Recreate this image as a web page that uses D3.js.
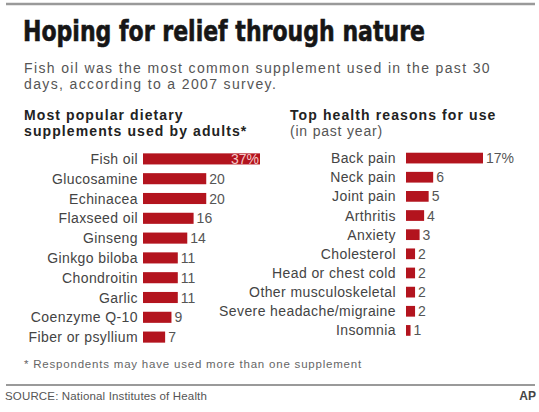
<!DOCTYPE html>
<html><head><meta charset="utf-8">
<script src="https://cdn.jsdelivr.net/npm/d3@7"></script>
<style>body{margin:0;background:#fff}svg{display:block}</style>
</head><body>
<script>
const supplements = ["Fish oil","Glucosamine","Echinacea","Flaxseed oil","Ginseng","Ginkgo biloba","Chondroitin","Garlic","Coenzyme Q-10","Fiber or psyllium"];
const supplementValues = [37,20,20,16,14,11,11,11,9,7];
const reasons = ["Back pain","Neck pain","Joint pain","Arthritis","Anxiety","Cholesterol","Head or chest cold","Other musculoskeletal","Severe headache/migraine","Insomnia"];
const reasonValues = [17,6,5,4,3,2,2,2,2,1];

const W = 539, H = 412;
const red = "#b3141e";
const font = "'Liberation Sans', Arial, sans-serif";
const svg = d3.select("body").append("svg").attr("width", W).attr("height", H);
svg.append("rect").attr("width", W).attr("height", H).attr("fill", "#fff");

// set letter-spacing so that the text spans the given width
function spread(sel, w) {
  const n = sel.node(); const l = n.getComputedTextLength();
  const ls = (w - l) / sel.text().length;
  sel.attr("letter-spacing", ls);
  return ls;
}

svg.append("line").attr("x1", 6).attr("x2", 535).attr("y1", 4).attr("y2", 4)
  .attr("stroke", "#9a9a9a").attr("stroke-width", 2.5);

svg.append("text").attr("x", 23).attr("y", 41)
  .attr("font-family", "'DejaVu Sans Condensed', 'Liberation Sans Narrow', sans-serif")
  .attr("font-weight", "bold").attr("font-size", 29).attr("fill", "#161616")
  .attr("stroke", "#161616").attr("stroke-width", 0.6)
  .attr("textLength", 402).attr("lengthAdjust", "spacingAndGlyphs")
  .text("Hoping for relief through nature");

const sub1 = svg.append("text").attr("x", 24).attr("y", 73).attr("font-family", font)
  .attr("font-size", 14).attr("fill", "#555").text("Fish oil was the most common supplement used in the past 30");
const subLs = spread(sub1, 467);
svg.append("text").attr("x", 24).attr("y", 89).attr("font-family", font).attr("letter-spacing", subLs)
  .attr("font-size", 14).attr("fill", "#555").text("days, according to a 2007 survey.");

[["Most popular dietary", 24, 120, true], ["supplements used by adults*", 24, 136, true],
 ["Top health reasons for use", 290, 120, true], ["(in past year)", 290, 136, false]].forEach(([t, x, y, b]) => {
  svg.append("text").attr("x", x).attr("y", y).attr("font-family", font)
    .attr("font-weight", b ? "bold" : "normal").attr("font-size", 14).attr("letter-spacing", b ? 1.1 : 0.8)
    .attr("fill", b ? "#222" : "#555").text(t);
});

function barChart(cats, vals, x0, xAt, vAt, yTop, yBot, labelRight, pctInside) {
  const x = d3.scaleLinear().domain([0, vAt]).range([x0, xAt]);
  const y = d3.scaleBand().domain(cats).range([yTop, yBot]).paddingInner(0.44).paddingOuter(0.22);
  const g = svg.append("g");
  const data = cats.map((c, i) => ({c, v: vals[i], i}));
  g.selectAll("rect").data(data).join("rect")
    .attr("x", x(0)).attr("y", d => y(d.c)).attr("width", d => x(d.v) - x(0))
    .attr("height", y.bandwidth()).attr("fill", red);
  g.selectAll("text.cat").data(data).join("text").attr("class", "cat")
    .attr("x", labelRight).attr("y", d => y(d.c) + y.bandwidth() / 2).attr("dy", "0.36em")
    .attr("text-anchor", "end").attr("font-family", font).attr("font-size", 14).attr("letter-spacing", 0.4)
    .attr("fill", "#444").text(d => d.c);
  g.selectAll("text.val").data(data).join("text").attr("class", "val")
    .attr("x", d => (d.i === 0 && pctInside) ? x(d.v) - 1 : x(d.v) + 3)
    .attr("y", d => y(d.c) + y.bandwidth() / 2).attr("dy", "0.36em")
    .attr("text-anchor", d => (d.i === 0 && pctInside) ? "end" : "start")
    .attr("font-family", font).attr("font-size", 14)
    .attr("fill", d => (d.i === 0 && pctInside) ? "#f3c6c6" : "#555")
    .text(d => d.i === 0 ? d.v + "%" : d.v);
}
barChart(supplements, supplementValues, 143, 260, 37, 149, 347, 138, true);
barChart(reasons, reasonValues, 406, 483, 17, 148.5, 340, 396, false);

const foot = svg.append("text").attr("x", 24).attr("y", 368).attr("font-family", font)
  .attr("font-size", 11.5).attr("fill", "#666").text("* Respondents may have used more than one supplement");
spread(foot, 338);

svg.append("line").attr("x1", 6).attr("x2", 535).attr("y1", 385).attr("y2", 385)
  .attr("stroke", "#9a9a9a").attr("stroke-width", 2);
const src = svg.append("text").attr("x", 5).attr("y", 400).attr("font-family", font)
  .attr("font-size", 11.5).attr("fill", "#555").text("SOURCE: National Institutes of Health");
spread(src, 202);
svg.append("text").attr("x", 536).attr("y", 400).attr("text-anchor", "end").attr("font-family", font)
  .attr("font-weight", "bold").attr("font-size", 12).attr("fill", "#444").text("AP");
</script>
</body></html>
